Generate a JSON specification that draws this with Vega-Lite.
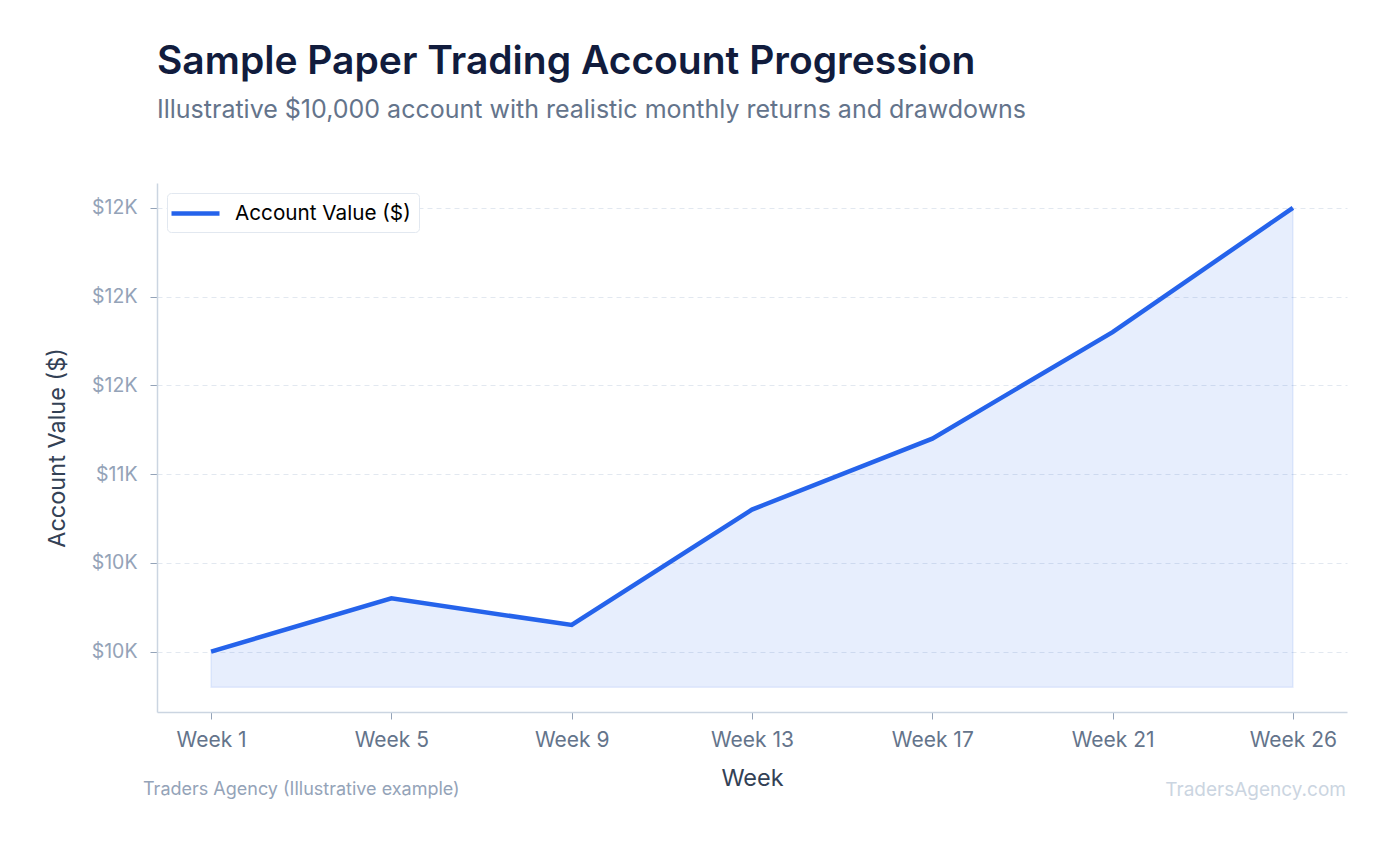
{
  "$schema": "https://vega.github.io/schema/vega-lite/v6.json",
  "width": 1190,
  "height": 529,
  "autosize": {"type": "none"},
  "padding": {"left": 157, "top": 183, "right": 44, "bottom": 133},
  "background": "white",
  "config": {
    "font": "Inter",
    "view": {"stroke": null},
    "title": {"font": "Inter"}
  },
  "title": {
    "text": "Sample Paper Trading Account Progression",
    "subtitle": "Illustrative $10,000 account with realistic monthly returns and drawdowns",
    "anchor": "start",
    "frame": "group",
    "fontSize": 39,
    "fontWeight": 600,
    "color": "#111c3d",
    "subtitleFontSize": 25,
    "subtitleColor": "#64748b",
    "subtitlePadding": 16,
    "offset": 60
  },
  "datasets": {
    "account": [
      {"week": "Week 1", "value": 10000},
      {"week": "Week 5", "value": 10300},
      {"week": "Week 9", "value": 10150},
      {"week": "Week 13", "value": 10800},
      {"week": "Week 17", "value": 11200},
      {"week": "Week 21", "value": 11800},
      {"week": "Week 26", "value": 12500}
    ],
    "footers": [
      {"side": "left", "label": "Traders Agency (Illustrative example)"},
      {"side": "right", "label": "TradersAgency.com"}
    ]
  },
  "layer": [
    {
      "data": {"name": "account"},
      "mark": {"type": "area", "fill": "#2563eb", "fillOpacity": 0.11, "stroke": "#2563eb", "strokeOpacity": 0.1, "strokeWidth": 1.5},
      "encoding": {
        "x": {
          "field": "week",
          "type": "ordinal",
          "sort": null,
          "scale": {"type": "point", "padding": 0.3},
          "title": "Week",
          "axis": {
            "labelAngle": 0,
            "labelFontSize": 21,
            "labelColor": "#64748b",
            "labelPadding": 10,
            "tickSize": 7,
            "tickColor": "#94a3b8",
            "tickWidth": 1,
            "domainColor": "#cbd5e1",
            "domainWidth": 1.5,
            "grid": false,
            "titleFontSize": 23.5,
            "titleFontWeight": "normal",
            "titleColor": "#334155",
            "titlePadding": 16
          }
        },
        "y": {
          "field": "value",
          "type": "quantitative",
          "scale": {"domain": [9660, 12640], "nice": false, "zero": false},
          "title": "Account Value ($)",
          "axis": {
            "values": [10000, 10500, 11000, 11500, 12000, 12500],
            "labelExpr": "'$' + (abs(datum.value/1000 - floor(datum.value/1000) - 0.5) < 1e-9 ? (floor(datum.value/1000) % 2 == 0 ? floor(datum.value/1000) : floor(datum.value/1000) + 1) : round(datum.value/1000)) + 'K'",
            "labelFontSize": 19.5,
            "labelColor": "#94a3b8",
            "labelPadding": 13,
            "tickSize": 7,
            "tickColor": "#94a3b8",
            "tickWidth": 1,
            "domainColor": "#cbd5e1",
            "domainWidth": 1.5,
            "grid": true,
            "gridColor": "#e2e8f0",
            "gridDash": [5, 4],
            "gridWidth": 1,
            "titleFontSize": 23.5,
            "titleFontWeight": "normal",
            "titleColor": "#334155",
            "titlePadding": 22
          }
        },
        "y2": {"datum": 9800}
      }
    },
    {
      "data": {"name": "account"},
      "mark": {"type": "line", "strokeWidth": 4.5},
      "encoding": {
        "x": {"field": "week", "type": "ordinal", "sort": null},
        "y": {"field": "value", "type": "quantitative"},
        "color": {
          "datum": "Account Value ($)",
          "scale": {"range": ["#2563eb"]},
          "legend": {
            "title": null,
            "orient": "top-left",
            "offset": 10,
            "symbolType": "M-1.6,0H3.2",
            "symbolSize": 400,
            "symbolStrokeWidth": 4.5,
            "labelFontSize": 20.7,
            "labelLimit": 400,
            "labelColor": "#000000",
            "labelOffset": 35,
            "padding": 8,
            "fillColor": "white",
            "strokeColor": "#e2e8f0",
            "cornerRadius": 4
          }
        }
      }
    },
    {
      "data": {"name": "footers"},
      "transform": [{"filter": "datum.side == 'left'"}],
      "mark": {"type": "text", "align": "left", "baseline": "middle", "fontSize": 18, "color": "#94a3b8"},
      "encoding": {
        "text": {"field": "label"},
        "x": {"value": -14},
        "y": {"value": 607}
      }
    },
    {
      "data": {"name": "footers"},
      "transform": [{"filter": "datum.side == 'right'"}],
      "mark": {"type": "text", "align": "right", "baseline": "middle", "fontSize": 19, "color": "#cbd5e1"},
      "encoding": {
        "text": {"field": "label"},
        "x": {"value": 1189},
        "y": {"value": 607}
      }
    }
  ]
}
